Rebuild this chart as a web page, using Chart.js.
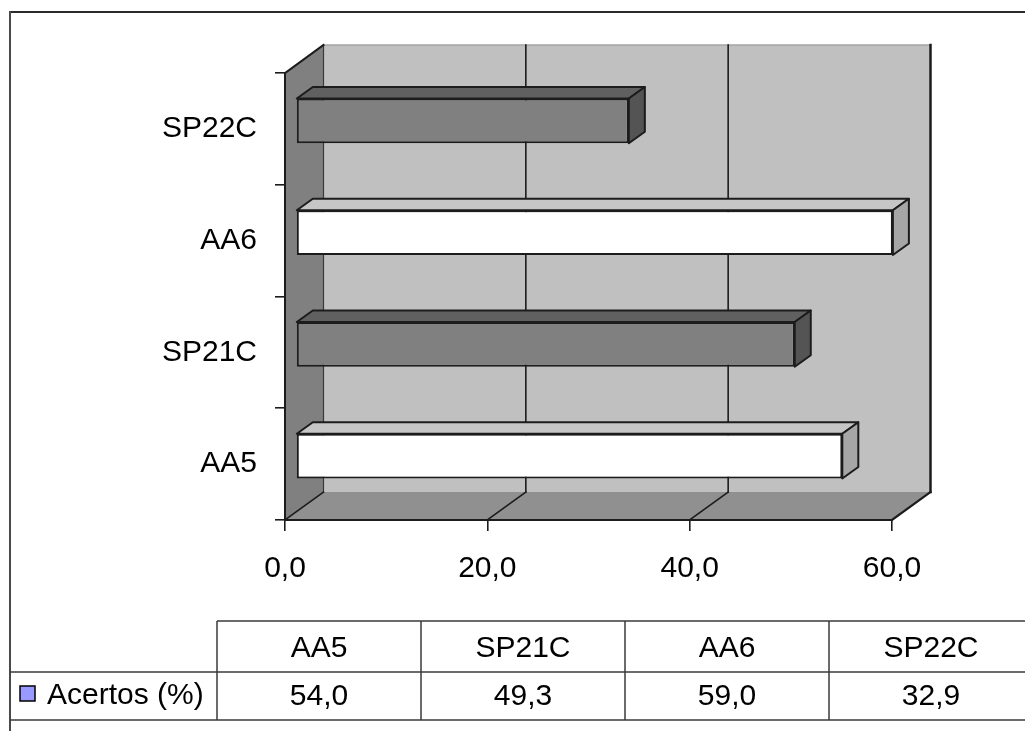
<!DOCTYPE html>
<html>
<head>
<meta charset="utf-8">
<script src="https://cdn.jsdelivr.net/npm/chart.js@4"></script>
<style>
  html, body { margin: 0; padding: 0; background: #fff; }
  canvas { display: block; }
</style>
</head>
<body>
<canvas id="chart" width="1025" height="731"></canvas>
<script>
// ---- data ----
const categories = ['AA5', 'SP21C', 'AA6', 'SP22C'];
const acertos = [54.0, 49.3, 59.0, 32.9];
const seriesName = 'Acertos (%)';
const axisMin = 0;
const axisMax = 60;
const axisStep = 20;

// ---- style ----
const FONT = '"Liberation Sans", Arial, sans-serif';
const EDGE = '#1c1c1c';
const fmt = v => Number(v).toFixed(1).replace('.', ',');

// front, top and side colours of each box
const faceStyles = {
  light: ['#FFFFFF', '#C6C6C6', '#A6A6A6'],
  dark:  ['#808080', '#606060', '#545454']
};
const styleFor = name => faceStyles[name.startsWith('SP') ? 'dark' : 'light'];

const DEPTH = { x: 38.5, y: -28 };      // depth of walls and floor
const BAR_SHIFT = { x: 11, y: -8 };     // bar front face sits inside the depth
const BAR_DEPTH = { x: 16, y: -11.5 };  // depth of each bar

function poly(ctx, pts, fill, stroke, lw) {
  ctx.beginPath();
  ctx.moveTo(pts[0][0], pts[0][1]);
  for (let i = 1; i < pts.length; i++) ctx.lineTo(pts[i][0], pts[i][1]);
  ctx.closePath();
  if (fill) { ctx.fillStyle = fill; ctx.fill(); }
  if (stroke) { ctx.strokeStyle = stroke; ctx.lineWidth = lw || 1; ctx.stroke(); }
}
function seg(ctx, x1, y1, x2, y2, color, lw) {
  ctx.beginPath();
  ctx.moveTo(x1, y1);
  ctx.lineTo(x2, y2);
  ctx.strokeStyle = color;
  ctx.lineWidth = lw;
  ctx.stroke();
}

const box3d = {
  id: 'box3d',
  beforeDraw(chart) {
    const { ctx, chartArea: a, scales: { x } } = chart;
    const x0 = x.getPixelForValue(axisMin);
    const x1 = x.getPixelForValue(axisMax);
    const t = a.top, b = a.bottom, dx = DEPTH.x, dy = DEPTH.y;
    ctx.save();
    ctx.lineCap = 'square';

    // outer frame
    seg(ctx, 10, 12, 1025, 12, '#2a2a2a', 2);
    seg(ctx, 10, 12, 10, 731, '#4a4a4a', 2);

    // walls and floor
    poly(ctx, [[x0, t], [x0 + dx, t + dy], [x0 + dx, b + dy], [x0, b]], '#808080');
    poly(ctx, [[x0 + dx, t + dy], [x1 + dx, t + dy], [x1 + dx, b + dy], [x0 + dx, b + dy]], '#C0C0C0');
    poly(ctx, [[x0, b], [x0 + dx, b + dy], [x1 + dx, b + dy], [x1, b]], '#909090');
    seg(ctx, x0 + dx, t + dy, x1 + dx, t + dy, '#a4a4a4', 1.5);

    // gridlines on back wall and floor
    for (let v = axisMin; v <= axisMax; v += axisStep) {
      const px = x.getPixelForValue(v);
      const w = (v === axisMax) ? 2.5 : 1.6;
      seg(ctx, px + dx, t + dy, px + dx, b + dy, v === axisMin ? '#3a3a3a' : EDGE, v === axisMin ? 1.2 : w);
      seg(ctx, px, b, px + dx, b + dy, EDGE, v === axisMax ? 2.2 : 1.6);
    }
    // top edge of the side wall
    seg(ctx, x0, t, x0 + dx, t + dy, EDGE, 2);
    ctx.restore();
  },
  beforeDatasetsDraw(chart) {
    chart.ctx.save();
    chart.ctx.translate(BAR_SHIFT.x, BAR_SHIFT.y);
  },
  afterDatasetsDraw(chart) {
    const ctx = chart.ctx;
    const meta = chart.getDatasetMeta(0);
    ctx.lineJoin = 'round';
    meta.data.forEach((bar, i) => {
      const p = bar.getProps(['x', 'y', 'base', 'height'], true);
      const top = p.y - p.height / 2;
      const bot = p.y + p.height / 2;
      const [, topC, sideC] = styleFor(categories[i]);
      const bx = BAR_DEPTH.x, by = BAR_DEPTH.y;
      poly(ctx, [[p.base, top], [p.base + bx, top + by], [p.x + bx, top + by], [p.x, top]], topC, EDGE, 2);
      poly(ctx, [[p.x, top], [p.x + bx, top + by], [p.x + bx, bot + by], [p.x, bot]], sideC, EDGE, 2);
    });
    ctx.restore();
  },
  afterDraw(chart) {
    // data table under the plot
    const ctx = chart.ctx;
    const colLeft = 217, colW = 204;
    const yTop = 621, yMid = 672, yBot = 720;
    const lineC = '#3a3a3a';
    ctx.save();
    seg(ctx, colLeft, yTop, 1025, yTop, lineC, 1.5);
    seg(ctx, 10, yMid, 1025, yMid, lineC, 1.5);
    seg(ctx, 10, yBot, 1025, yBot, lineC, 1.5);
    for (let i = 0; i < categories.length; i++) {
      const cx = colLeft + i * colW;
      seg(ctx, cx, yTop, cx, yBot, lineC, 1.5);
    }
    ctx.fillStyle = '#000';
    ctx.font = '30px ' + FONT;
    ctx.textAlign = 'center';
    ctx.textBaseline = 'alphabetic';
    categories.forEach((c, i) => {
      const cx = colLeft + i * colW + colW / 2;
      ctx.fillText(c, cx, 657);
      ctx.fillText(fmt(acertos[i]), cx, 705);
    });
    // series key
    ctx.fillStyle = '#9999FF';
    ctx.fillRect(20, 686, 15, 15);
    ctx.strokeStyle = '#000';
    ctx.lineWidth = 1.5;
    ctx.strokeRect(20, 686, 15, 15);
    ctx.fillStyle = '#000';
    ctx.textAlign = 'left';
    ctx.fillText(seriesName, 47, 704);
    ctx.restore();
  }
};

new Chart(document.getElementById('chart'), {
  type: 'bar',
  data: {
    labels: categories,
    datasets: [{
      label: seriesName,
      data: acertos,
      backgroundColor: categories.map(c => styleFor(c)[0]),
      borderColor: EDGE,
      borderWidth: 2,
      borderSkipped: false,
      categoryPercentage: 1,
      barPercentage: 0.4
    }]
  },
  options: {
    indexAxis: 'y',
    responsive: false,
    animation: false,
    events: [],
    layout: { padding: { top: 73, right: 133, bottom: 0, left: 0 } },
    plugins: { legend: { display: false }, tooltip: { enabled: false } },
    scales: {
      x: {
        min: axisMin,
        max: axisMax,
        ticks: {
          stepSize: axisStep,
          callback: v => fmt(v),
          font: { family: FONT, size: 30 },
          color: '#000',
          padding: 20,
          maxRotation: 0
        },
        grid: { drawOnChartArea: false, tickLength: 11, color: EDGE, lineWidth: 1.6 },
        border: { display: true, color: EDGE, width: 2 },
        afterFit(s) { s.height = 211; }
      },
      y: {
        reverse: true,
        ticks: { font: { family: FONT, size: 30 }, color: '#000', padding: 18 },
        grid: { offset: true, drawOnChartArea: false, tickLength: 10, color: EDGE, lineWidth: 1.6 },
        border: { display: true, color: EDGE, width: 2 },
        afterFit(s) { s.width = 285; }
      }
    }
  },
  plugins: [box3d]
});
</script>
</body>
</html>
